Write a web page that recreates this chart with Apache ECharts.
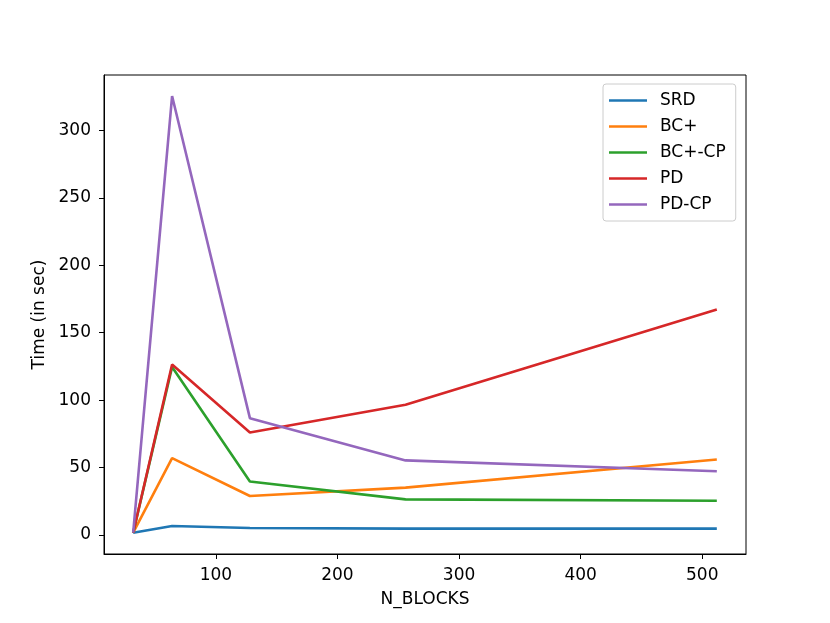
<!DOCTYPE html>
<html>
<head>
<meta charset="utf-8">
<script src="https://cdn.jsdelivr.net/npm/echarts@6/dist/echarts.min.js"></script>
<style>
  html, body { margin: 0; padding: 0; background: #fff; }
  #chart { width: 830px; height: 623px; }
</style>
</head>
<body>
<div id="chart"></div>
<script>
// block counts on the x axis
const nBlocks = [32, 64, 128, 256, 512]
const seriesNames = ['SRD', 'BC+', 'BC+-CP', 'PD', 'PD-CP']
const srd = [1.7, 6.7, 5.2, 4.7, 4.7]
const bcPlus = [1.7, 57, 28.9, 35.1, 56]
const bcPlusCp = [1.7, 124.5, 39.7, 26.4, 25.4]
const pd = [1.7, 126.4, 76, 96.5, 167.2]
const pdCp = [1.7, 325.4, 86.6, 55.3, 47.2]
const xTicks = [100, 200, 300, 400, 500]
const yTicks = [0, 50, 100, 150, 200, 250, 300]
const colors = ['#1f77b4', '#ff7f0e', '#2ca02c', '#d62728', '#9467bd']

const font = 'DejaVu Sans'
const allValues = [srd, bcPlus, bcPlusCp, pd, pdCp]

const chart = echarts.init(document.getElementById('chart'), null, { renderer: 'canvas' })

const series = allValues.map((vals, i) => ({
  name: seriesNames[i],
  type: 'line',
  symbol: 'none',
  animation: false,
  lineStyle: { width: 2.6, color: colors[i] },
  itemStyle: { color: colors[i] },
  data: nBlocks.map((x, j) => [x, vals[j]])
}))

const axisCommon = {
  type: 'value',
  scale: true,
  splitLine: { show: false },
  axisLine: { show: true, onZero: false, lineStyle: { color: '#000', width: 1 } },
  axisTick: { show: true, length: 5, lineStyle: { color: '#000', width: 1 } },
  nameTextStyle: { color: '#000', fontFamily: font, fontSize: 17 },
  nameLocation: 'middle'
}

chart.setOption({
  animation: false,
  backgroundColor: '#fff',
  grid: {
    left: 104, right: 84, top: 75, bottom: 69,
    show: true, borderColor: '#000', borderWidth: 1
  },
  legend: {
    orient: 'vertical',
    left: 603,
    top: 84,
    data: seriesNames,
    icon: 'rect',
    itemWidth: 38,
    itemHeight: 2.5,
    itemGap: 9,
    padding: [8, 10, 8, 6],
    backgroundColor: 'rgba(255,255,255,0.8)',
    borderColor: '#cccccc',
    borderWidth: 1,
    borderRadius: 3,
    textStyle: { color: '#000', fontFamily: font, fontSize: 17, padding: [0, 0, 0, 8] }
  },
  xAxis: Object.assign({}, axisCommon, {
    min: 8,
    max: 536,
    name: 'N_BLOCKS',
    nameGap: 37,
    axisTick: Object.assign({}, axisCommon.axisTick, { customValues: xTicks }),
    axisLabel: { customValues: xTicks, margin: 13, color: '#000', fontFamily: font, fontSize: 17 }
  }),
  yAxis: Object.assign({}, axisCommon, {
    min: -14.1,
    max: 341,
    name: 'Time (in sec)',
    nameGap: 55,
    axisTick: Object.assign({}, axisCommon.axisTick, { customValues: yTicks }),
    axisLabel: { customValues: yTicks, margin: 13, color: '#000', fontFamily: font, fontSize: 17 }
  }),
  series: series
})
</script>
</body>
</html>
